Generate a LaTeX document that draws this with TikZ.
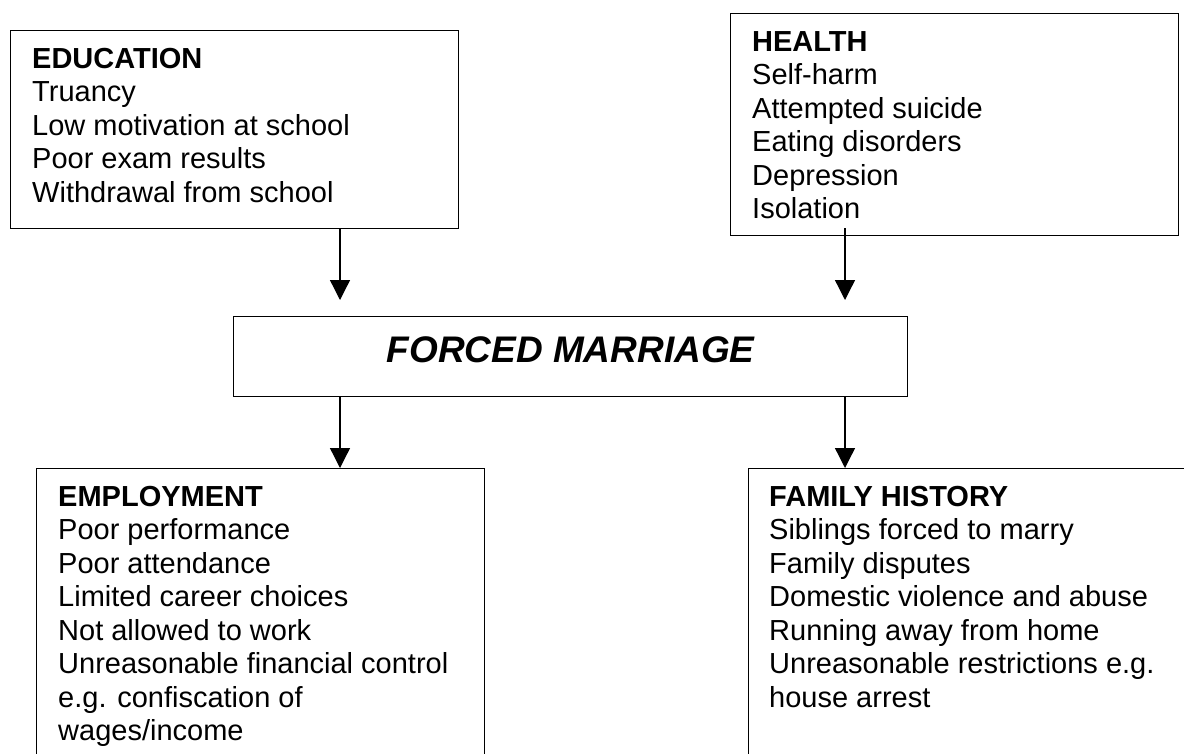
\documentclass[tikz,border=0pt]{standalone}
\usepackage{fontspec}
\setmainfont{Liberation Sans}
\usetikzlibrary{arrows.meta,positioning}

\begin{document}
\begin{tikzpicture}[x=1pt, y=-1pt,
    box/.style={draw, line width=1.3pt, rectangle, inner sep=0pt, anchor=north west},
    itemlist/.style={align=left, inner sep=0pt, font=\fontsize{29}{33.5}\selectfont},
    flow/.style={-{Triangle[width=20pt, length=20pt]}, line width=1.3pt}]
    \useasboundingbox (0,0) rectangle (1184,753);

    % Boxes
    \node[box, minimum width=448pt, minimum height=198pt] (edu) at (10,30) {};
    \node[box, minimum width=448pt, minimum height=222pt] (hlth) at (730,13) {};
    \node[box, minimum width=674pt, minimum height=80pt] (fm) at (233,316) {};
    \node[box, minimum width=448pt, minimum height=310pt] (emp) at (36,468) {};
    \node[box, minimum width=448pt, minimum height=310pt] (fam) at (748,468) {};

    % Labels
    \node[itemlist, below right=18pt and 22pt of edu.north west] (edutext)
        {\textbf{EDUCATION}\\Truancy\\Low motivation at school\\Poor exam results\\Withdrawal from school};
    \node[itemlist, below right=18pt and 22pt of hlth.north west] (hlthtext)
        {\textbf{HEALTH}\\Self-harm\\Attempted suicide\\Eating disorders\\Depression\\Isolation};
    \node[itemlist, below right=18pt and 22pt of emp.north west] (emptext)
        {\textbf{EMPLOYMENT}\\Poor performance\\Poor attendance\\Limited career choices\\Not allowed to work\\Unreasonable financial control\\e.g. confiscation of\\wages/income};
    \node[itemlist, below right=18pt and 21pt of fam.north west] (famtext)
        {\textbf{FAMILY HISTORY}\\Siblings forced to marry\\Family disputes\\Domestic violence and abuse\\Running away from home\\Unreasonable restrictions e.g.\\house arrest};
    \node[anchor=base, yshift=-6pt, inner sep=0pt, font=\fontsize{37}{44}\selectfont\bfseries\itshape] (fmtext) at (fm.center) {FORCED MARRIAGE};

    % Arrows
    \coordinate (lx) at (340,0);
    \coordinate (rx) at (845,0);
    \draw[flow] (edu.south -| lx) -- ([yshift=16pt]fm.north -| lx);
    \draw[flow] ([yshift=8pt]hlth.south -| rx) -- ([yshift=16pt]fm.north -| rx);
    \draw[flow] (fm.south -| lx) -- (emp.north -| lx);
    \draw[flow] (fm.south -| rx) -- (fam.north -| rx);
\end{tikzpicture}
\end{document}
